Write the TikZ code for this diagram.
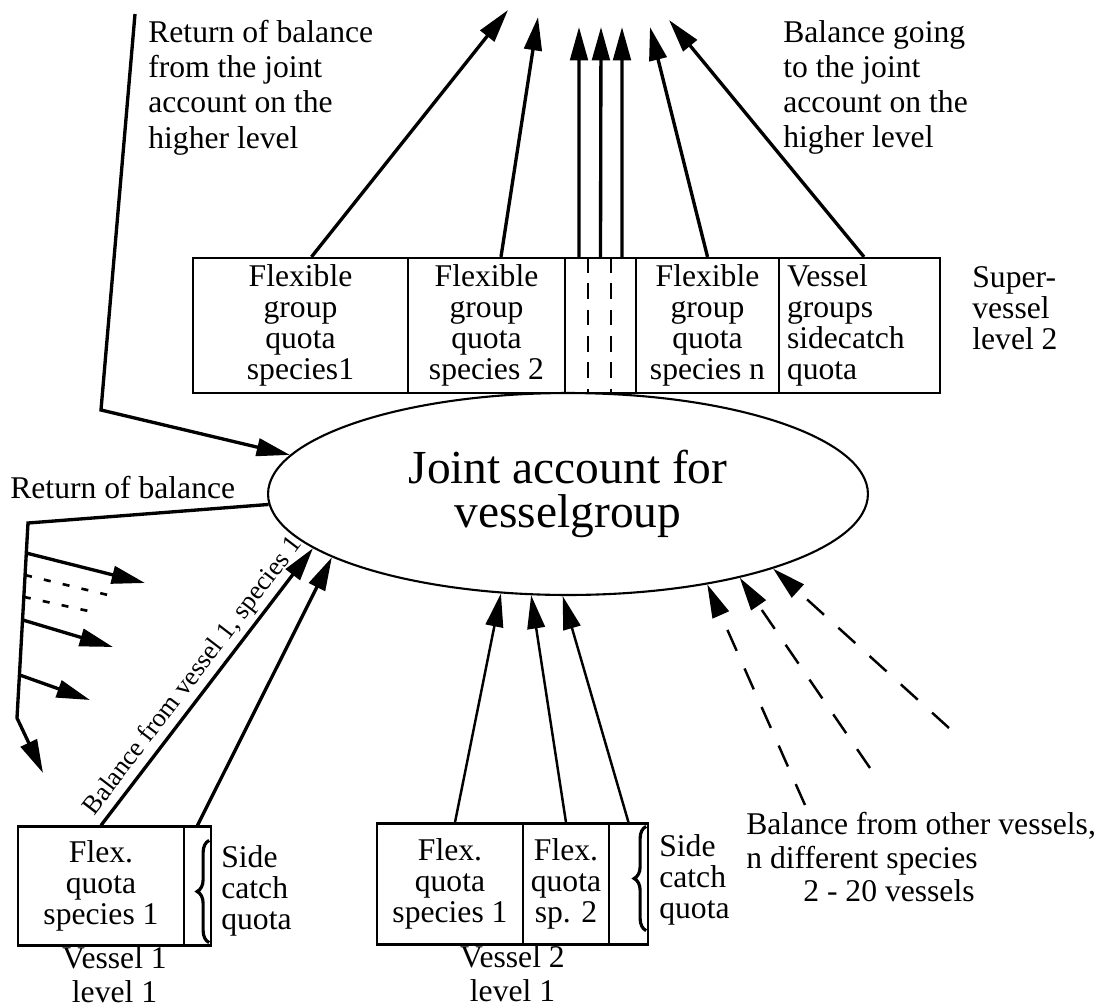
\documentclass[tikz,border=0pt]{standalone}
\usepackage{fontspec}
\setmainfont{Liberation Serif}
\usetikzlibrary{shapes.geometric, arrows.meta, decorations.pathreplacing, calc}
\definecolor{ink}{RGB}{0,0,0}
\tikzset{
  cell/.style={rectangle, draw=ink, line width=1.3pt, inner sep=0pt,
    align=center, font=\fontsize{18}{17.6}\selectfont},
  lbl/.style={align=left, inner sep=0pt, font=\fontsize{18}{20}\selectfont},
  flow/.style={-{Triangle[length=19pt,width=10pt]}, line width=1.9pt, color=ink},
  thinflow/.style={-{Triangle[length=19pt,width=10pt]}, line width=1.4pt, color=ink},
  dashflow/.style={thinflow, dash pattern=on 13pt off 11pt},
  dotline/.style={line width=1.5pt, dash pattern=on 4pt off 7pt},
  gapline/.style={line width=1.2pt, dash pattern=on 9pt off 6pt},
  sidebrace/.style={decorate, decoration={brace, amplitude=0.24cm}, line width=1.8pt}
}
\begin{document}
\begin{tikzpicture}[x=0.02cm, y=-0.02cm]
  \useasboundingbox (0,0) rectangle (1100,1008);
  % super vessel, level 2
  \node[cell, minimum width=4.3cm, minimum height=2.7cm] (sp1) at (300.5,325.5) {Flexible\\group\\quota\\species1};
  \node[cell, minimum width=3.14cm, minimum height=2.7cm] (sp2) at (486.5,325.5) {Flexible\\group\\quota\\species 2};
  \node[cell, minimum width=1.42cm, minimum height=2.7cm] (gap) at (600.5,325.5) {};
  \node[cell, minimum width=2.86cm, minimum height=2.7cm] (spn) at (707.5,325.5) {Flexible\\group\\quota\\species n};
  \node[cell, minimum width=3.22cm, minimum height=2.7cm, align=left, text width=2.9cm] (vgs) at (859.5,325.5) {Vessel\\groups\\sidecatch\\quota};
  \draw[gapline] ([xshift=-0.25cm]gap.north) -- ([xshift=-0.25cm]gap.south);
  \draw[gapline] ([xshift=0.21cm]gap.north) -- ([xshift=0.21cm]gap.south);
  \node[lbl, font=\fontsize{18}{17.6}\selectfont, anchor=north west] (sup) at (972,266) {Super-\\vessel\\level 2};

  % joint account
  \node[draw=ink, ellipse, line width=1.2pt, minimum width=12cm, minimum height=4.04cm,
        inner sep=0pt, align=center, font=\fontsize{27}{25}\selectfont] (jnt) at (568,494) {Joint account for\\vesselgroup};

  % up to the higher level
  \coordinate (t1) at (508,10);
  \coordinate (t2) at (538,17);
  \coordinate (t3) at (579,27);
  \coordinate (t4) at (601,27);
  \coordinate (t5) at (622,27);
  \coordinate (t6) at (650,27);
  \coordinate (t7) at (669,20);
  \draw[flow] ([xshift=0.22cm]sp1.north) -- (t1);
  \draw[flow] ([xshift=0.29cm]sp2.north) -- (t2);
  \draw[flow] ([xshift=-0.43cm]gap.north) -- (t3);
  \draw[flow] (gap.north) -- (t4);
  \draw[flow] ([xshift=0.43cm]gap.north) -- (t5);
  \draw[flow] (spn.north) -- (t6);
  \draw[flow] ([xshift=0.09cm]vgs.north) -- (t7);
  \node[lbl, anchor=north west] (rettop) at (148,20) {Return of balance\\from the joint\\account on the\\higher level};
  \node[lbl, anchor=north west] (gotop) at (783,20) {Balance going\\to the joint\\account on the\\higher level};

  % return from the higher level
  \coordinate (hi) at (135,14);
  \coordinate (bend) at (101,410);
  \draw[flow] (hi) -- (bend) -- (jnt.172.4);

  % return of balance to the vessels
  \node[lbl, anchor=west] (retlbl) at (10,488) {Return of balance};
  \coordinate (r1) at (28,523);
  \coordinate (r2) at (17,718);
  \coordinate (r3) at (43,773);
  \draw[flow] (jnt.182) -- (r1) -- (r2) -- (r3);
  \foreach \t/\ex/\ey in {0.154/145/583, 0.497/113/647, 0.779/90/700}
    \draw[flow] ($(r1)!\t!(r2)$) -- (\ex,\ey);
  \foreach \t/\ex/\ey in {0.267/108/595, 0.379/93/612}
    \draw[dotline] ($(r1)!\t!(r2)$) -- (\ex,\ey);

  % vessel 1
  \node[cell, minimum width=3.32cm, minimum height=2.38cm] (v1a) at (101,886) {Flex.\\quota\\species 1};
  \node[cell, minimum width=0.54cm, minimum height=2.38cm] (v1b) at (197.5,886) {};
  \draw[sidebrace] ([xshift=-0.06cm,yshift=0.08cm]v1b.south east) -- ([xshift=-0.06cm,yshift=-0.3cm]v1b.north east);
  \node[lbl, font=\fontsize{18}{17.6}\selectfont, anchor=west] (v1side) at (221,891) {Side\\catch\\quota};
  \node[lbl, align=center, font=\fontsize{18}{19}\selectfont, anchor=north] (v1name) at ($(v1a.south west)!0.5!(v1b.south east)$) {Vessel 1\\level 1};
  \draw[flow] (v1a.north) -- node[sloped, above, inner sep=2pt, font=\fontsize{15}{15}\selectfont] {Balance from vessel 1, species 1} (jnt.192.7);
  \draw[flow] (v1b.north) -- (jnt.195.3);

  % vessel 2
  \node[cell, minimum width=2.92cm, minimum height=2.42cm] (v2a) at (450,884) {Flex.\\quota\\species 1};
  \node[cell, minimum width=1.72cm, minimum height=2.42cm] (v2b) at (566,884) {Flex.\\quota\\sp. 2};
  \node[cell, minimum width=0.78cm, minimum height=2.42cm] (v2c) at (628.5,884) {};
  \draw[sidebrace] ([xshift=-0.06cm,yshift=0.3cm]v2c.south east) -- ([xshift=-0.06cm,yshift=-0.08cm]v2c.north east);
  \node[lbl, font=\fontsize{18}{17.6}\selectfont, anchor=west] (v2side) at (659,880) {Side\\catch\\quota};
  \node[lbl, align=center, font=\fontsize{18}{19}\selectfont, anchor=north] (v2name) at ($(v2a.south west)!0.5!(v2c.south east)$) {Vessel 2\\level 1};
  \draw[thinflow] ([xshift=0.1cm]v2a.north) -- (jnt.236);
  \draw[thinflow] (v2b.north) -- (jnt.250);
  \draw[thinflow] (v2c.north) -- (jnt.267);

  % other vessels
  \coordinate (o1) at (805,805);
  \coordinate (o2) at (870,768);
  \coordinate (o3) at (949,728);
  \draw[dashflow] (o1) -- (jnt.327.7);
  \draw[dashflow] (o2) -- (jnt.334);
  \draw[dashflow] (o3) -- (jnt.340);
  \node[lbl, font=\fontsize{18}{19}\selectfont, anchor=north west] (other) at (746,812) {Balance from other vessels,\\n different species\\\hspace*{1.14cm}2 - 20 vessels};
\end{tikzpicture}
\end{document}
